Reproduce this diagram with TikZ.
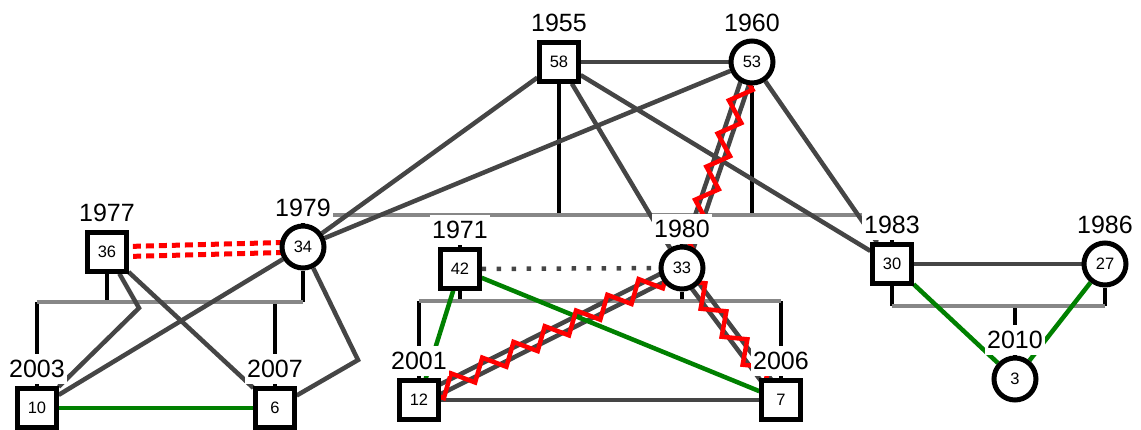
\documentclass[tikz,border=0pt]{standalone}
\usepackage{fontspec}
\setmainfont{Liberation Sans}
\usetikzlibrary{positioning,calc,decorations.pathmorphing}
\pgfdeclarelayer{background}
\pgfsetlayers{background,main}

\begin{document}
\begin{tikzpicture}[x=1pt,y=1pt,node distance=190pt,
    male/.style={rectangle,draw,fill=white,line width=5pt,minimum size=38.3pt,inner sep=0pt,font=\fontsize{16.5}{16.5}\selectfont},
    female/.style={circle,draw,fill=white,line width=5pt,minimum size=42pt,inner sep=0pt,font=\fontsize{16.5}{16.5}\selectfont},
    year/.style={fill=white,inner xsep=2pt,inner ysep=6pt,text height=18pt,text depth=0pt,font=\fontsize{25}{25}\selectfont},
    rel/.style={draw=black!73,line width=4.5pt},
    kin/.style={draw=black,line width=4.5pt},
    sib/.style={draw=black!47,line width=4.5pt},
    bond/.style={draw=green!50!black,line width=4.5pt},
    distant/.style={rel,dash pattern=on 4.5pt off 10.5pt},
    cutoff/.style={draw=red,line width=5pt,dash pattern=on 8pt off 5pt},
    hostile/.style={draw=red,line width=4.5pt,decorate,decoration={zigzag,segment length=35pt,amplitude=9.5pt,mirror}}]
                \useasboundingbox (-559,62) rectangle (582,-367);

                \node [male](58) {58};
                \node [female](53) [right of=58, xshift=3] {53};
                \node [female](34) [below of=58, xshift=-256, yshift=5] {34};
                \node [male](36) [left of=34, xshift=-6, yshift=-5] {36};
                \node [male](42) [right of=34, xshift=-33, yshift=-22] {42};
                \node [female](33) [right of=42, xshift=32, yshift=1] {33};
                \node [male](30) [right of=33, xshift=20, yshift=4] {30};
                \node [female](27) [right of=30, xshift=23] {27};
                \node [male](10) [below of=36, xshift=-70, yshift=34] {10};
                \node [male](6) [right of=10, xshift=48] {6};
                \node [male](12) [below of=42, xshift=-41, yshift=59] {12};
                \node [male](7) [right of=12, xshift=172] {7};
                \node [female](3) [below of=30, xshift=123, yshift=75] {3};

                \node [year](1955) [above=2.4pt of 58] {1955};
                \node [year](1960) [above=0.5pt of 53] {1960};
                \node [year](1977) [above=2.4pt of 36] {1977};
                \node [year](1979) [above=0.5pt of 34] {1979};
                \node [year](1971) [above=2.4pt of 42] {1971};
                \node [year](1980) [above=0.5pt of 33] {1980};
                \node [year](1983) [above=2.4pt of 30] {1983};
                \node [year](1986) [above=0.5pt of 27] {1986};
                \node [year](2003) [above=2.4pt of 10] {2003};
                \node [year](2007) [above=2.4pt of 6] {2007};
                \node [year](2001) [above=2.4pt of 12] {2001};
                \node [year](2006) [above=2.4pt of 7] {2006};
                \node [year](2010) [above=0.5pt of 3] {2010};

                \coordinate (f1) at ($(58)+(0,-153)$);
                \coordinate (f2) at ($(36)+(0,-50)$);
                \coordinate (f3) at ($(42)+(0,-32)$);
                \coordinate (f4) at ($(30)+(0,-42)$);
                \coordinate (k36) at ($(36)+(32,-56)$);
                \coordinate (k34) at ($(34)+(55,-113)$);

                \begin{pgfonlayer}{background}
                \path[kin]
                    (58) edge (58 |- f1)
                    (53) edge (53 |- f1)
                    (f1 -| 34) edge (34)
                    (f1 -| 42) edge (42)
                    (f1 -| 33) edge (33)
                    (f1 -| 30) edge (30)

                    (36) edge (36 |- f2)
                    (34) edge (34 |- f2)
                    (f2 -| 10) edge (10)
                    (f2 -| 6) edge (6)

                    (42) edge (42 |- f3)
                    (33) edge (33 |- f3)
                    (f3 -| 12) edge (12)
                    (f3 -| 7) edge (7)

                    (30) edge (30 |- f4)
                    (27) edge (27 |- f4)
                    (f4 -| 3) edge (3)
                    ;
                \path[sib]
                    (f1 -| 34) edge (f1 -| 30)
                    (f2 -| 10) edge (f2 -| 34)
                    (f3 -| 12) edge (f3 -| 7)
                    (f4 -| 30) edge (f4 -| 27)
                    ;
                \path[rel]
                    (58) edge (53)
                    (58) edge (34)
                    (53) edge (34)
                    (58) edge (33)
                    (58) edge (30)
                    (53) edge (30)
                    (36) edge (6)
                    (34) edge (10)
                    (12) edge (7)
                    (30) edge (27)

                    ($(53)!4.5pt!90:(33)$) edge ($(33)!4.5pt!-90:(53)$)
                    ($(53)!4.5pt!-90:(33)$) edge ($(33)!4.5pt!90:(53)$)
                    ($(33)!4.5pt!90:(12)$) edge ($(12)!4.5pt!-90:(33)$)
                    ($(33)!4.5pt!-90:(12)$) edge ($(12)!4.5pt!90:(33)$)
                    ($(33)!4.5pt!90:(7)$) edge ($(7)!4.5pt!-90:(33)$)
                    ($(33)!4.5pt!-90:(7)$) edge ($(7)!4.5pt!90:(33)$)
                    ;
                \draw[rel] (36) -- (k36) -- (10);
                \draw[rel] (34) -- (k34) -- (6);
                \path[distant] (42) edge (33);
                \path[cutoff]
                    ($(36)!5pt!90:(34)$) edge ($(34)!5pt!-90:(36)$)
                    ($(36)!5pt!-90:(34)$) edge ($(34)!5pt!90:(36)$)
                    ;
                \path[bond]
                    (10) edge (6)
                    (42) edge (12)
                    (42) edge (7)
                    (30) edge (3)
                    (27) edge (3)
                    ;
                \path
                    (53.center) edge[hostile] (33.center)
                    (33.center) edge[hostile] (12.center)
                    (33.center) edge[hostile] (7.center)
                    ;
                \end{pgfonlayer}
\end{tikzpicture}
\end{document}
